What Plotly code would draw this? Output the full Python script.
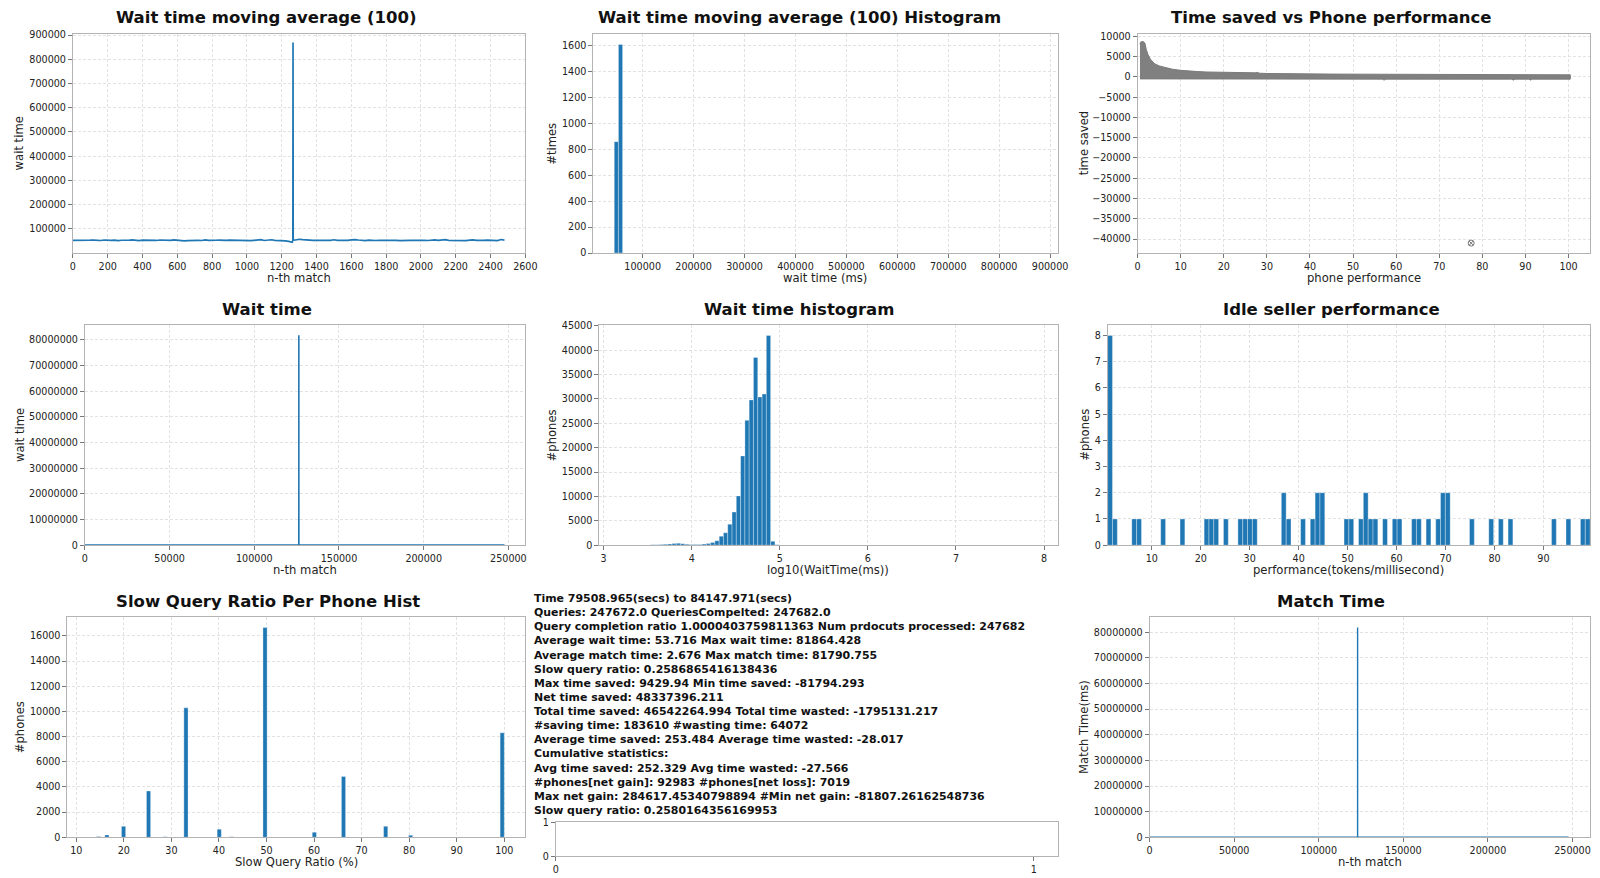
import plotly.graph_objects as go

# figure size and the 8px body margin of the page it sits in
W, H, OFF = 1600, 878, 8
# measured page -> photo mapping (photo = A + S * page), used to place things
SX, AX = 0.9918, 2.1
SY, AY = 0.987, 5.2
BLUE = "#1f77b4"
FONT = "DejaVu Sans"

# ---- Wait time moving average (100), one value per 20 windows ----
ma_step = 20
ma_values = [
    52100, 51800, 53200, 52600, 51400, 52900, 53500, 52200, 51700, 53800,
    52400, 51900, 53000, 51200, 52700, 51300, 52800, 54400, 52000, 51600,
    53100, 52500, 54200, 52300, 51800, 53700, 52900, 51200, 52600, 54500,
    52300, 50600, 49900, 51500, 52800, 53600, 52400, 51700, 54600, 52100,
    51400, 52700, 53500, 52300, 51900, 53200, 52600, 51500, 53900, 52800,
    52000, 51300, 52400, 53600, 54900, 51800, 53000, 54800, 52500, 51700,
    52900, 50300, 47800, 44600, 53800, 56900, 55100, 52600, 53000, 52200,
    51600, 52800, 53400, 51900, 52600, 54700, 52300, 51800, 53100, 52500,
    54200, 55600, 53900, 52400, 51200, 52900, 50800, 51700, 52300, 53500,
    52600, 51900, 53200, 52100, 51500, 52800, 53700, 52400, 51800, 52900,
    53300, 52000, 51600, 52700, 54300, 52200, 53100, 55200, 52500, 51900,
    52800, 53600, 52100, 51400, 53000, 54400, 52600, 51700, 52300, 53200,
    52000, 52700, 51600, 55800, 53100,
]
ma_spike_x = [1264, 1265, 1266]
ma_spike_values = [51800, 870000, 53400]

# ---- Moving average histogram ----
ma_hist_centers = [48300, 56500, 860100]
ma_hist_counts = [860, 1610, 1]
ma_hist_width = 8200

# ---- Time saved vs phone performance (scatter envelope) ----
ts_upper_x = [0.55, 0.7, 1.3, 1.7, 2.0, 2.4, 3.0, 4.0, 5.0, 6.4, 8.0, 10, 12, 14, 16, 20, 25,
              27.3, 27.8, 28.3, 30, 36, 45, 52, 56, 62.8, 63.5, 64.2, 66.2, 66.7, 67.2,
              67.8, 68.3, 68.8, 70.3, 70.8, 71.3, 80, 89.5, 90, 90.5, 100.4]
ts_upper_y = [8000, 8600, 8700, 8300, 6800, 5500, 4300, 3200, 2700, 2250, 1900, 1600, 1400,
              1300, 1200, 1080, 980, 1000, 1100, 900, 830, 720, 680, 660, 640, 640, 700, 620,
              620, 720, 620, 620, 700, 600, 600, 700, 580, 540, 520, 640, 520, 500]
ts_lower_x = [0.55, 56.8, 57.2, 57.6, 86.8, 87.2, 87.6, 90.8, 91.2, 91.6, 100.4]
ts_lower_y = [-500, -560, -800, -560, -560, -800, -560, -560, -800, -560, -560]
ts_outlier_x = [77.4]
ts_outlier_y = [-41000]

# ---- Wait time per match ----
wait_x = [0, 126290, 126300, 126310, 247682]
wait_y = [53716, 53716, 81864428, 53716, 53716]

# ---- Wait time histogram, log10(ms) ----
logwait_centers = [3.069, 3.118, 3.167, 3.215, 3.264, 3.313, 3.362, 3.410, 3.459, 3.508,
                   3.556, 3.605, 3.654, 3.702, 3.751, 3.800, 3.849, 3.897, 3.946, 3.995,
                   4.043, 4.092, 4.141, 4.189, 4.238, 4.287, 4.336, 4.384, 4.433, 4.482,
                   4.530, 4.579, 4.628, 4.676, 4.725, 4.774, 4.823, 4.871, 4.920, 4.969,
                   7.891]
logwait_counts = [3, 2, 0, 5, 8, 10, 15, 20, 30, 45,
                  60, 90, 130, 180, 260, 340, 380, 310, 200, 130,
                  120, 160, 220, 330, 520, 900, 1850, 2550, 4300, 6800,
                  10100, 18300, 25600, 29800, 38500, 30400, 31000, 43000, 800, 60,
                  1]
logwait_width = 0.0487

# ---- Idle seller performance ----
idle_centers = [1.47, 2.46, 6.40, 7.39, 12.31, 16.26, 21.18, 22.17, 23.15, 25.13, 28.08,
                29.07, 30.05, 31.04, 36.95, 37.94, 40.89, 42.86, 43.85, 44.84, 49.76,
                50.75, 52.72, 53.70, 54.69, 55.68, 57.64, 59.62, 60.60, 63.56, 64.55,
                66.52, 68.49, 69.47, 70.46, 75.39, 79.33, 81.30, 83.27, 92.14, 95.10,
                98.05, 99.04]
idle_counts = [8, 1, 1, 1, 1, 1, 1, 1, 1, 1, 1,
               1, 1, 1, 2, 1, 1, 1, 2, 2, 1,
               1, 1, 2, 1, 1, 1, 1, 1, 1, 1,
               1, 1, 2, 2, 1, 1, 1, 1, 1, 1,
               1, 1]
idle_width = 0.9855

# ---- Slow query ratio per phone ----
slow_centers = [14.69, 16.44, 19.94, 25.19, 28.69, 33.06, 40.06, 42.69, 49.69, 60.06,
                66.19, 75.06, 80.31, 82.94, 99.56]
slow_counts = [60, 190, 870, 3680, 40, 10280, 640, 40, 16660, 400, 4820, 870, 160, 20, 8300]
slow_width = 0.875

# ---- Match time ----
match_x = [0, 122950, 122960, 122970, 247682]
match_y = [2676, 2676, 81790755, 2676, 2676]

stats_lines = [
    "Time 79508.965(secs) to 84147.971(secs)",
    "Queries: 247672.0 QueriesCompelted: 247682.0",
    "Query completion ratio 1.0000403759811363 Num prdocuts processed: 247682",
    "Average wait time: 53.716 Max wait time: 81864.428",
    "Average match time: 2.676 Max match time: 81790.755",
    "Slow query ratio: 0.2586865416138436",
    "Max time saved: 9429.94 Min time saved: -81794.293",
    "Net time saved: 48337396.211",
    "Total time saved: 46542264.994 Total time wasted: -1795131.217",
    "#saving time: 183610 #wasting time: 64072",
    "Average time saved: 253.484 Average time wasted: -28.017",
    "Cumulative statistics:",
    "Avg time saved: 252.329 Avg time wasted: -27.566",
    "#phones[net gain]: 92983 #phones[net loss]: 7019",
    "Max net gain: 284617.45340798894 #Min net gain: -81807.26162548736",
    "Slow query ratio: 0.2580164356169953",
]

# ---- panel geometry (photo pixels) ----
panels = [
    dict(box=(72, 525, 33, 252), xr=[0, 2600], yr=[0, 905000],
         xt=list(range(0, 2601, 200)), yt=list(range(100000, 900001, 100000))),
    dict(box=(593, 1058, 33, 252), xr=[3000, 915000], yr=[0, 1692],
         xt=list(range(100000, 900001, 100000)), yt=list(range(0, 1601, 200))),
    dict(box=(1138, 1591, 33, 252), xr=[0, 105], yr=[-43440, 10590],
         xt=list(range(0, 101, 10)), yt=list(range(-40000, 10001, 5000))),
    dict(box=(84, 525, 324, 544), xr=[0, 260000], yr=[0, 85800000],
         xt=list(range(0, 250001, 50000)), yt=list(range(0, 80000001, 10000000))),
    dict(box=(599, 1058, 324, 544), xr=[2.95, 8.155], yr=[0, 45150],
         xt=[3, 4, 5, 6, 7, 8], yt=list(range(0, 45001, 5000))),
    dict(box=(1108, 1591, 324, 544), xr=[0.98, 99.53], yr=[0, 8.4],
         xt=list(range(10, 91, 10)), yt=list(range(0, 9))),
    dict(box=(66.5, 525, 616, 836), xr=[8.13, 104.43], yr=[0, 17480],
         xt=list(range(10, 101, 10)), yt=list(range(0, 16001, 2000))),
    dict(box=(555.5, 1058, 821, 855), xr=[0, 1.05], yr=[0, 1],
         xt=[0, 1], yt=[0, 1]),
    dict(box=(1150, 1591, 616, 836), xr=[0, 260400], yr=[0, 85850000],
         xt=list(range(0, 250001, 50000)), yt=list(range(0, 80000001, 10000000))),
]


def fx(px):
    return min(1.0, max(0.0, ((px - AX) / SX - OFF) / W))


def fy(py):
    return min(1.0, max(0.0, 1 - ((py - AY) / SY - OFF) / H))


fig = go.Figure()
layout = dict(
    width=W, height=H, margin=dict(l=0, r=0, t=0, b=0),
    paper_bgcolor="white", plot_bgcolor="white", showlegend=False,
    barmode="overlay", font=dict(family=FONT, color="#222"),
)

for i, p in enumerate(panels, start=1):
    x0, x1, top, bottom = p["box"]
    sfx = "" if i == 1 else str(i)
    common = dict(
        showline=True, mirror=True, linecolor="#b3b3b3", linewidth=1,
        ticks="outside", ticklen=4, tickcolor="#777", tickwidth=1,
        showgrid=True, gridcolor="#e2e2e2", griddash="3px,2px", gridwidth=1,
        zeroline=False, tickformat="d",
        tickfont=dict(family=FONT, size=9.6, color="#222"),
    )
    layout["xaxis" + sfx] = dict(common, domain=[fx(x0), fx(x1)], range=p["xr"],
                                 tickvals=p["xt"], anchor="y" + sfx)
    layout["yaxis" + sfx] = dict(common, domain=[fy(bottom), fy(top)], range=p["yr"],
                                 tickvals=p["yt"], anchor="x" + sfx)
    if i == 8:
        layout["xaxis8"]["showgrid"] = False
        layout["yaxis8"]["showgrid"] = False

bar_style = dict(color=BLUE, line=dict(color="rgba(255,255,255,0.55)", width=0.6))

# 1: moving average, with the spike windows merged in
ma_x = [k * ma_step for k in range(len(ma_values))]
ma_y = list(ma_values)
pos = next(k for k, v in enumerate(ma_x) if v > ma_spike_x[0])
ma_x[pos:pos] = ma_spike_x
ma_y[pos:pos] = ma_spike_values
fig.add_trace(go.Scatter(x=ma_x, y=ma_y, mode="lines", line=dict(color=BLUE, width=1.7),
                         xaxis="x", yaxis="y"))

# 2: moving average histogram
fig.add_trace(go.Bar(x=ma_hist_centers, y=ma_hist_counts, width=ma_hist_width,
                     marker=bar_style, xaxis="x2", yaxis="y2"))

# 3: time saved vs phone performance
fig.add_trace(go.Scatter(
    x=ts_upper_x + ts_lower_x[::-1], y=ts_upper_y + ts_lower_y[::-1],
    mode="lines", fill="toself", fillcolor="#808080",
    line=dict(color="#7a7a7a", width=1), xaxis="x3", yaxis="y3"))
fig.add_trace(go.Scatter(x=ts_outlier_x, y=ts_outlier_y, mode="markers",
                         marker=dict(symbol="circle-x-open", size=6, color="#777",
                                     line=dict(width=1)),
                         xaxis="x3", yaxis="y3"))

# 4: wait time
fig.add_trace(go.Scatter(x=wait_x, y=wait_y, mode="lines", line=dict(color=BLUE, width=1.6),
                         xaxis="x4", yaxis="y4"))

# 5: wait time histogram
fig.add_trace(go.Bar(x=logwait_centers, y=logwait_counts, width=logwait_width,
                     marker=bar_style, xaxis="x5", yaxis="y5"))

# 6: idle seller performance
fig.add_trace(go.Bar(x=idle_centers, y=idle_counts, width=idle_width,
                     marker=bar_style, xaxis="x6", yaxis="y6"))

# 7: slow query ratio
fig.add_trace(go.Bar(x=slow_centers, y=slow_counts, width=slow_width,
                     marker=bar_style, xaxis="x7", yaxis="y7"))

# 8: empty axes under the stats text
fig.add_trace(go.Scatter(x=[], y=[], xaxis="x8", yaxis="y8"))

# 9: match time
fig.add_trace(go.Scatter(x=match_x, y=match_y, mode="lines", line=dict(color=BLUE, width=1.4),
                         xaxis="x9", yaxis="y9"))

annotations = []


def ann(text, x, y, size, bold=False, angle=0, xanchor="center"):
    annotations.append(dict(
        text="<b>%s</b>" % text if bold else text, x=fx(x), y=fy(y),
        xref="paper", yref="paper", showarrow=False, textangle=angle,
        xanchor=xanchor, yanchor="middle",
        font=dict(family=FONT, size=size, color="#111" if bold else "#222")))


titles = [
    ("Wait time moving average (100)", 266, 17),
    ("Wait time moving average (100) Histogram", 799, 17),
    ("Time saved vs Phone performance", 1332, 17),
    ("Wait time", 266, 308),
    ("Wait time histogram", 799, 308),
    ("Idle seller performance", 1332, 308),
    ("Slow Query Ratio Per Phone Hist", 267, 600),
    ("Match Time", 1332, 600),
]
for t, x, y in titles:
    ann(t, x, y, 16.5, bold=True)

xlabels = [
    ("n-th match", 0, 277), ("wait time (ms)", 1, 277), ("phone performance", 2, 277),
    ("n-th match", 3, 569), ("log10(WaitTime(ms))", 4, 569),
    ("performance(tokens/millisecond)", 5, 569),
    ("Slow Query Ratio (%)", 6, 861), ("n-th match", 8, 861),
]
for t, k, y in xlabels:
    x0, x1, _, _ = panels[k]["box"]
    ann(t, (x0 + x1) / 2, y, 11.6)

ylabels = [
    ("wait time", 0, 19), ("#times", 1, 552), ("time saved", 2, 1085),
    ("wait time", 3, 19), ("#phones", 4, 552), ("#phones", 5, 1085),
    ("#phones", 6, 19), ("Match Time(ms)", 8, 1085),
]
for t, k, x in ylabels:
    _, _, top, bottom = panels[k]["box"]
    ann(t, x, (top + bottom) / 2, 11.6, angle=-90)

for n, line in enumerate(stats_lines):
    ann(line, 531.5, 597.3 + n * 14.13, 10.95, bold=True, xanchor="left")

layout["annotations"] = annotations
fig.update_layout(**layout)
fig.write_html("out.html")
